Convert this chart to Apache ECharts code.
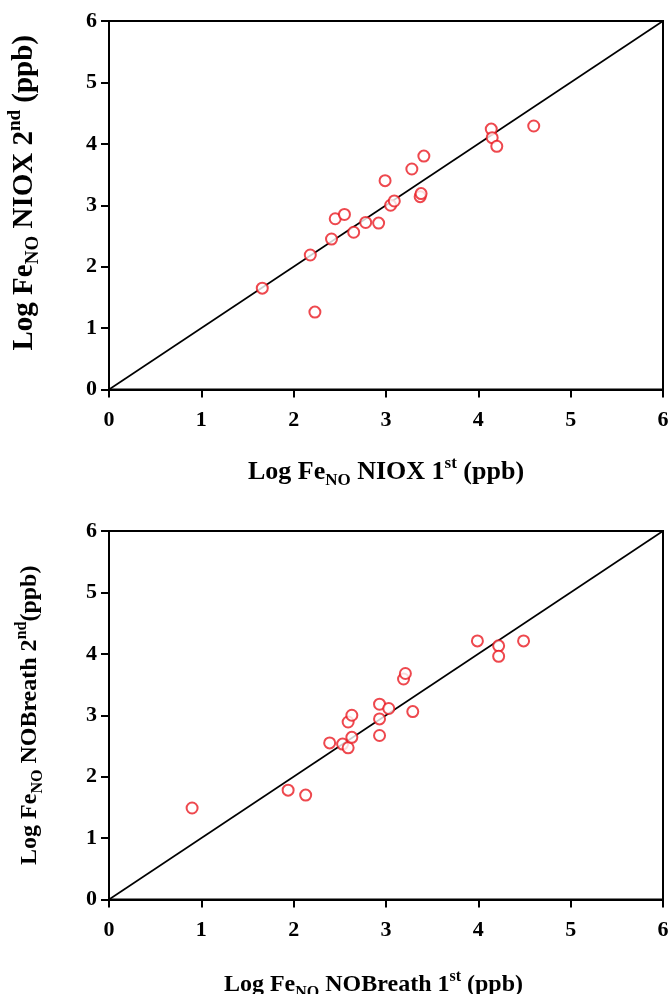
<!DOCTYPE html>
<html>
<head>
<meta charset="utf-8">
<script src="https://cdn.jsdelivr.net/npm/echarts@6/dist/echarts.min.js"></script>
<style>
  html, body { margin: 0; padding: 0; background: #fff; }
  #chart { width: 672px; height: 994px; }
</style>
</head>
<body>
<div id="chart"></div>
<script>
// Log FeNO repeatability: first vs second measurement, per device
const niox1st = [1.66, 2.18, 2.23, 2.41, 2.45, 2.55, 2.65, 2.78, 2.92, 2.99, 3.05, 3.09, 3.28, 3.37, 3.38, 3.41, 4.14, 4.15, 4.20, 4.60];
const niox2nd = [1.65, 2.19, 1.26, 2.45, 2.78, 2.85, 2.56, 2.72, 2.71, 3.40, 3.00, 3.07, 3.59, 3.14, 3.19, 3.80, 4.24, 4.10, 3.96, 4.29];

const nobreath1st = [0.90, 1.94, 2.13, 2.39, 2.53, 2.59, 2.63, 2.59, 2.63, 2.93, 3.03, 2.93, 2.93, 3.29, 3.19, 3.21, 3.99, 4.22, 4.22, 4.49];
const nobreath2nd = [1.49, 1.78, 1.70, 2.55, 2.53, 2.47, 2.64, 2.89, 3.00, 3.18, 3.11, 2.94, 2.67, 3.06, 3.59, 3.68, 4.21, 4.13, 3.96, 4.21];

// line of identity, from 0 to 6 on both axes
const identityLine = [0, 6];
const axisTicks = ['0', '1', '2', '3', '4', '5', '6'];

const zip = (xs, ys) => xs.map((x, i) => [x, ys[i]]);

const SERIF = '"Liberation Serif", "DejaVu Serif", serif';
const richTitle = (size) => ({
  a: { fontFamily: SERIF, fontWeight: 'bold', fontSize: size, color: '#000', lineHeight: size + 8, verticalAlign: 'middle' },
  sub: { fontFamily: SERIF, fontWeight: 'bold', fontSize: Math.round(size * 0.65), color: '#000', lineHeight: Math.round(size * 0.65), verticalAlign: 'bottom' },
  sup: { fontFamily: SERIF, fontWeight: 'bold', fontSize: Math.round(size * 0.65), color: '#000', lineHeight: Math.round(size * 0.65), verticalAlign: 'top' }
});

function valueAxis(gridIndex, name, nameSize, nameGap, padding, isY) {
  return {
    type: 'value',
    gridIndex: gridIndex,
    min: 0,
    max: 6,
    interval: 1,
    name: name,
    nameLocation: 'middle',
    nameGap: nameGap,
    nameRotate: isY ? 90 : 0,
    nameTextStyle: { rich: richTitle(nameSize), padding: padding },
    splitLine: { show: false },
    axisLine: { show: true, lineStyle: { color: '#000', width: 2 } },
    axisTick: { show: true, inside: false, length: 8, lineStyle: { color: '#000', width: 2 } },
    axisLabel: {
      margin: isY ? 12 : 20,
      fontFamily: SERIF,
      fontWeight: 'bold',
      fontSize: 22,
      color: '#000',
      formatter: (v) => axisTicks[Math.round(v)]
    }
  };
}

function scatter(idx, data) {
  return {
    type: 'scatter',
    xAxisIndex: idx,
    yAxisIndex: idx,
    data: data,
    symbol: 'emptyCircle',
    symbolSize: 11,
    itemStyle: { color: '#ea1a22', borderColor: '#ea1a22', borderWidth: 1.8 },
    z: 3
  };
}

function identity(idx) {
  return {
    type: 'line',
    xAxisIndex: idx,
    yAxisIndex: idx,
    data: identityLine.map(v => [v, v]),
    showSymbol: false,
    symbol: 'none',
    silent: true,
    lineStyle: { color: '#000', width: 1.6 },
    z: 2
  };
}

const gridBase = { show: true, borderColor: '#000', borderWidth: 2, backgroundColor: 'transparent', outerBoundsMode: 'none', containLabel: false };

const chart = echarts.init(document.getElementById('chart'), null, { renderer: 'canvas' });
chart.setOption({
  animation: false,
  backgroundColor: '#fff',
  grid: [
    Object.assign({ left: 109, top: 21, width: 554, height: 368.5 }, gridBase),
    Object.assign({ left: 109, top: 531, width: 554, height: 368.5 }, gridBase)
  ],
  xAxis: [
    valueAxis(0, '{a|Log Fe}{sub|NO}{a| NIOX 1}{sup|st}{a| (ppb)}', 26, 66, [0, 0, 0, 0], false),
    valueAxis(1, '{a|Log Fe}{sub|NO}{a| NOBreath 1}{sup|st}{a| (ppb)}', 24, 69, [0, 25, 0, 0], false)
  ],
  yAxis: [
    valueAxis(0, '{a|Log Fe}{sub|NO}{a| NIOX 2}{sup|nd}{a| (ppb)}', 29, 66, [0, 0, 0, 25], true),
    valueAxis(1, '{a|Log Fe}{sub|NO}{a| NOBreath 2}{sup|nd}{a|(ppb)}', 24, 63, [0, 0, 0, 0], true)
  ],
  series: [
    identity(0),
    scatter(0, zip(niox1st, niox2nd)),
    identity(1),
    scatter(1, zip(nobreath1st, nobreath2nd))
  ]
});
</script>
</body>
</html>
